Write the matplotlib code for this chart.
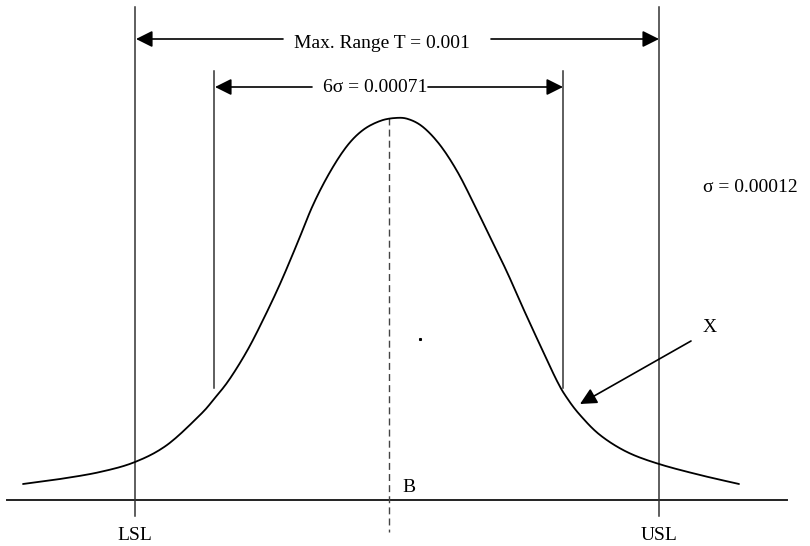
import numpy as np
import matplotlib
matplotlib.use("Agg")
import matplotlib.pyplot as plt

plt.rcParams['font.family'] = ['Liberation Serif', 'DejaVu Serif']

# Distribution curve sampled in diagram units (x to the right, y downward)
curve_x = [23, 60, 100, 135, 167, 200, 214, 229, 247, 263, 280, 297, 313, 330,
           347, 363, 380, 395, 408, 423, 440, 457, 473, 490, 507, 523, 540,
           557, 567, 580, 600, 627, 659, 700, 739]
curve_y = [484, 479, 472, 462, 445, 415, 399, 380, 351, 320, 284, 244, 205, 172,
           146, 130, 121, 118, 119, 127, 145, 171, 202, 237, 272, 308, 345,
           381, 398, 415, 435, 452, 464, 475, 484]

# Specification limits and process spread markers
lsl_x, usl_x = 135, 659
spread_left, spread_right = 214, 563
mean_x = 389
baseline_y = 500

range_label = "Max. Range T = 0.001"
spread_label = "6σ = 0.00071"
sigma_label = "σ = 0.00012"
limit_labels = ["LSL", "USL"]


def catmull_rom(xs, ys, n=12):
    """Smooth polyline through the sampled points for drawing."""
    p = np.column_stack([xs, ys]).astype(float)
    p = np.vstack([p[0], p, p[-1]])
    out = []
    t = np.linspace(0, 1, n, endpoint=False)[:, None]
    for i in range(1, len(p) - 2):
        p0, p1, p2, p3 = p[i - 1], p[i], p[i + 1], p[i + 2]
        seg = 0.5 * ((2 * p1) + (-p0 + p2) * t
                     + (2 * p0 - 5 * p1 + 4 * p2 - p3) * t ** 2
                     + (-p0 + 3 * p1 - 3 * p2 + p3) * t ** 3)
        out.append(seg)
    out.append(p[-2][None, :])
    s = np.vstack(out)
    return s[:, 0], s[:, 1]


fig = plt.figure(figsize=(8.1, 5.46), dpi=100)
ax = fig.add_axes([0, 0, 1, 1])
ax.set_xlim(0, 810)
ax.set_ylim(546, 0)
ax.axis('off')

lw = 1.1
# baseline
ax.plot([7, 787], [baseline_y, baseline_y], color='#222222', lw=1.4)
# specification limits
for x in (lsl_x, usl_x):
    ax.plot([x, x], [7, 516], color='#333333', lw=lw)
# 6-sigma spread markers
for x in (spread_left, spread_right):
    ax.plot([x, x], [71, 388], color='#333333', lw=lw)
# mean line
ax.plot([mean_x, mean_x], [118, 532], color='#444444', lw=1.0,
        dashes=(5, 3))

# curve
sx, sy = catmull_rom(curve_x, curve_y)
ax.plot(sx, sy, color='black', lw=1.3, solid_capstyle='round')

arrow = dict(arrowstyle='-|>,head_length=0.4,head_width=0.2',
             mutation_scale=25, color='black', lw=1.2,
             shrinkA=0, shrinkB=0)

# tolerance range arrows
ax.annotate('', xy=(lsl_x + 1, 39), xytext=(283, 39), arrowprops=arrow)
ax.annotate('', xy=(usl_x, 39), xytext=(491, 39), arrowprops=arrow)
ax.text(382, 43, range_label, ha='center', va='center', fontsize=14)

# 6-sigma arrows
ax.annotate('', xy=(spread_left + 1, 87), xytext=(312, 87), arrowprops=arrow)
ax.annotate('', xy=(spread_right, 87), xytext=(428, 87), arrowprops=arrow)
ax.text(375, 88, spread_label, ha='center', va='center', fontsize=14)

ax.text(703, 188, sigma_label, ha='left', va='center', fontsize=14)

# X pointer
ax.text(703, 328, "X", ha='left', va='center', fontsize=14)
ax.annotate('', xy=(580, 404), xytext=(691, 341), arrowprops=arrow)

ax.text(402, 487, "B", ha='left', va='center', fontsize=14)
ax.plot([420], [339], marker='s', ms=1.2, color='black')

ax.text(lsl_x, 535, limit_labels[0], ha='center', va='center', fontsize=14)
ax.text(usl_x, 535, limit_labels[1], ha='center', va='center', fontsize=14)

fig.savefig('out.png', dpi=100)
